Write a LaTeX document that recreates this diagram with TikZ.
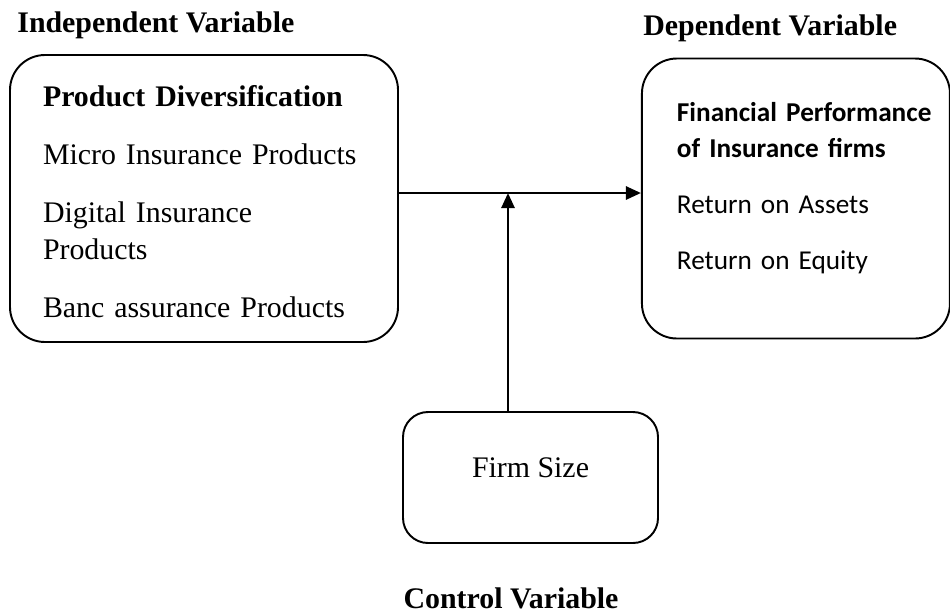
\documentclass[tikz,border=0pt]{standalone}
\usepackage{fontspec}
\setmainfont{Liberation Serif}
\newfontfamily\carlito{Carlito}
\usetikzlibrary{arrows.meta,positioning}

\begin{document}
\begin{tikzpicture}[
  box/.style={draw, line width=1.1pt, rounded corners=0.7cm, align=left},
  head/.style={font=\fontsize{17}{21}\selectfont\bfseries, inner sep=0pt},
  link/.style={line width=1.5pt, -{Triangle[length=0.3cm,width=0.26cm]}}]
  \useasboundingbox (0,0) rectangle (19,-12.26);
  \node[box, text width=6.44cm, inner xsep=0.66cm, minimum height=5.74cm,
    text height=15.5pt, font=\fontsize{17}{21}\selectfont] (indep) at (4.08,-3.97)
    {\textbf{Product Diversification}\\[12pt]
     Micro Insurance Products\\[12pt]
     Digital Insurance\\Products\\[12pt]
     Banc assurance Products};
  \node[box, text width=4.76cm, inner xsep=0.7cm, minimum height=5.6cm,
    text depth=98pt, font=\carlito\fontsize{15.5}{20}\selectfont, right=4.84cm of indep] (dep)
    {\mbox{\textbf{Financial Performance}}\\
     \textbf{of Insurance firms}\\[12pt]
     Return on Assets\\[12pt]
     Return on Equity};
  \node[box, rounded corners=0.5cm, minimum width=5.1cm, minimum height=2.62cm,
    text depth=0.4cm, font=\fontsize{17}{21}\selectfont] (ctrl) at (10.61,-9.55) {Firm Size};
  % variable headings
  \node[head, above right=0.44cm and 0.16cm of indep.north west, anchor=base west] (indeplbl) {Independent Variable};
  \node[head, above right=0.44cm and 0.04cm of dep.north west, anchor=base west] (deplbl) {Dependent Variable};
  \node[head, below=1.3cm of ctrl.south, anchor=base, xshift=-0.39cm] (ctrllbl) {Control Variable};
  % links
  \coordinate (mid) at ([yshift=0.11cm]indep.east);
  \draw[link] (mid) -- (mid -| dep.west);
  \draw[link] ([xshift=-0.45cm]ctrl.north) -- ([xshift=-0.45cm]ctrl.north |- mid);
\end{tikzpicture}
\end{document}
